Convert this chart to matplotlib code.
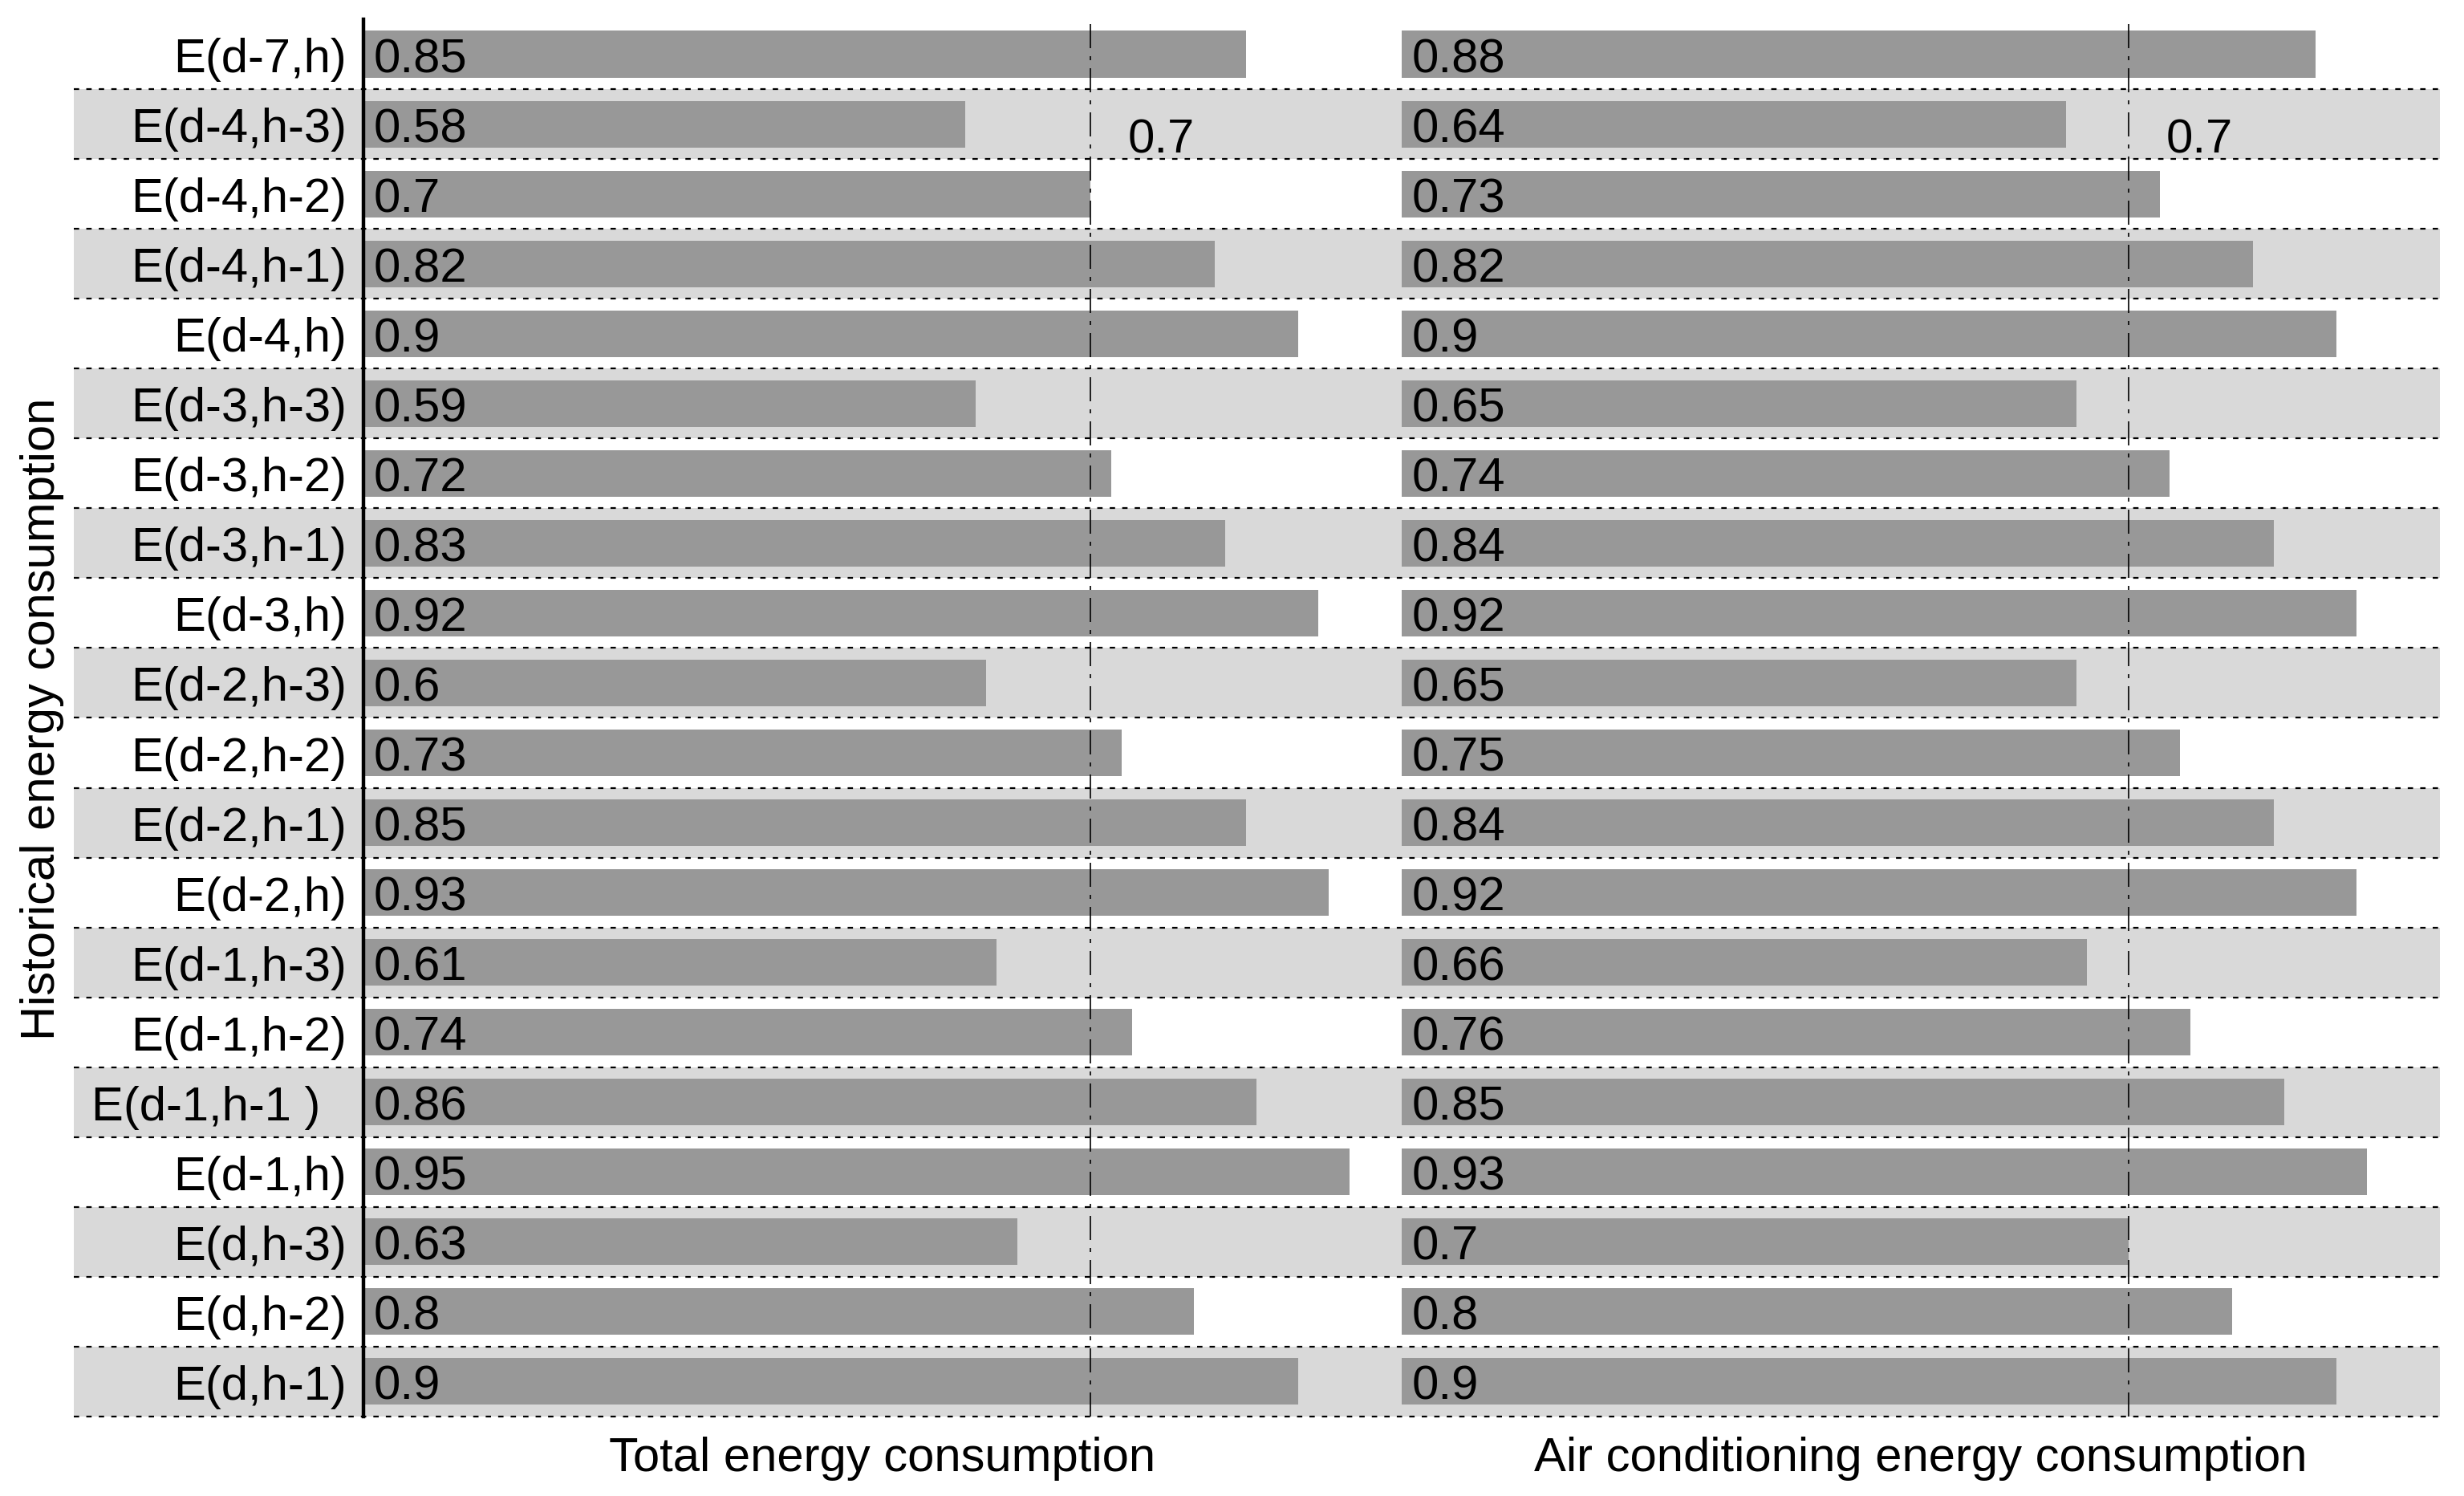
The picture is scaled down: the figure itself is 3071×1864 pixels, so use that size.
import matplotlib
matplotlib.use("Agg")
import matplotlib.pyplot as plt
import numpy as np

plt.rcParams['font.family'] = ['Liberation Sans', 'DejaVu Sans']

# rows top -> bottom
labels = ["E(d-7,h)", "E(d-4,h-3)", "E(d-4,h-2)", "E(d-4,h-1)", "E(d-4,h)",
          "E(d-3,h-3)", "E(d-3,h-2)", "E(d-3,h-1)", "E(d-3,h)",
          "E(d-2,h-3)", "E(d-2,h-2)", "E(d-2,h-1)", "E(d-2,h)",
          "E(d-1,h-3)", "E(d-1,h-2)", "E(d-1,h-1 )  ", "E(d-1,h)",
          "E(d,h-3)", "E(d,h-2)", "E(d,h-1)"]
total = [0.85, 0.58, 0.7, 0.82, 0.9, 0.59, 0.72, 0.83, 0.92, 0.6,
         0.73, 0.85, 0.93, 0.61, 0.74, 0.86, 0.95, 0.63, 0.8, 0.9]
aircon = [0.88, 0.64, 0.73, 0.82, 0.9, 0.65, 0.74, 0.84, 0.92, 0.65,
          0.75, 0.84, 0.92, 0.66, 0.76, 0.85, 0.93, 0.7, 0.8, 0.9]
panels = ["Total energy consumption", "Air conditioning energy consumption"]
threshold = 0.7

BAR = '#989898'
BAND = '#d9d9d9'
FS = 21.5

fig = plt.figure(figsize=(3071 / 200, 1865 / 200), dpi=200)
ax = fig.add_axes([0.1475, 0.0531, 0.8427, 0.9335])

n = len(labels)
y = np.arange(n)
band_left = -0.279

# alternating background bands + dotted separators
for i in y:
    if i % 2 == 1:
        ax.barh(i, 2.0 - band_left, left=band_left, height=1.0, color=BAND,
                zorder=0, clip_on=False)
ax.hlines(y + 0.5, band_left, 2.0, colors='black', lw=0.8,
          linestyles=[(0, (3, 4))], zorder=1, clip_on=False)

for k, vals in enumerate([total, aircon]):
    off = float(k)
    ax.barh(y, vals, left=off, height=0.667, color=BAR, zorder=2)
    for i, v in zip(y, vals):
        ax.text(off + 0.01, i, f"{v:g}", ha='left', va='center_baseline',
                fontsize=FS, zorder=4)
    ax.axvline(off + threshold, color='black', lw=0.6,
               linestyle=(0, (18, 6, 3, 6)), zorder=3)
    ax.text(off + threshold + 0.036, 1.16, f"{threshold:g}", ha='left',
            va='center_baseline', fontsize=FS, zorder=4)
    ax.text(off + 0.5, -0.0385, panels[k], ha='center', va='baseline',
            fontsize=FS, transform=ax.get_xaxis_transform())

ax.set_xlim(0, 2.0)
ax.set_ylim(n - 0.5, -0.5)
ax.set_yticks(y)
ax.set_yticklabels(labels, fontsize=FS)
ax.tick_params(axis='y', length=0, pad=7.5)
ax.set_xticks([])
for s in ['top', 'right', 'bottom']:
    ax.spines[s].set_visible(False)
ax.spines['left'].set_linewidth(1.6)
ax.spines['left'].set_zorder(5)
ax.set_facecolor('none')

ax.text(-0.1546, 0.5, "Historical energy consumption", rotation=90,
        ha='center', va='center', fontsize=FS, transform=ax.transAxes)

fig.savefig("out.png", dpi=200)
